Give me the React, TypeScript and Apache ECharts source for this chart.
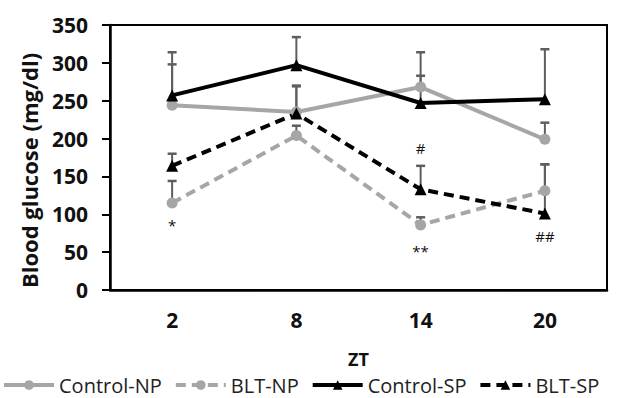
import React, { useEffect, useRef } from "react";
import * as echarts from "echarts";

const categories = ["2", "8", "14", "20"];
const controlNP = [244, 235, 268, 199];
const controlNPErr = [54, 35, 46, 22];
const bltNP = [115, 204, 86, 131];
const bltNPErr = [29, 13, 10, 35];
const controlSP = [257, 297, 247, 252];
const controlSPErr = [57, 37, 36, 66];
const bltSP = [164, 233, 133, 101];
const bltSPErr = [16, 36, 31, 65];

const annotationCats = [0, 2, 2, 3];
const annotationValues = [86, 51, 188, 71];
const annotationTexts = ["*", "**", "#", "##"];

const GRAY = "#a6a6a6";
const BLACK = "#000000";
const ERR = "#5e5e5e";
const FONT = "'Open Sans', 'DejaVu Sans', sans-serif";

export default function App() {
  const ref = useRef<HTMLDivElement>(null);
  useEffect(() => {
    if (!ref.current) return;
    const chart = echarts.init(ref.current, null, { renderer: "svg" });
    const errData: number[][] = [];
    const allVals = [controlNP, bltNP, controlSP, bltSP];
    const allErr = [controlNPErr, bltNPErr, controlSPErr, bltSPErr];
    allVals.forEach((vals, s) => {
      vals.forEach((v, i) => {
        if (allErr[s][i] > 0) errData.push([i, v, v + allErr[s][i]]);
      });
    });
    const lineSeries = (
      name: string,
      data: number[],
      color: string,
      dashed: boolean,
      symbol: string,
      size: number
    ) => ({
      name,
      type: "line",
      data,
      symbol,
      symbolSize: size,
      z: 3,
      lineStyle: { color, width: 4, type: dashed ? [10, 6] : "solid" },
      itemStyle: { color },
    });
    chart.setOption({
      animation: false,
      textStyle: { fontFamily: FONT },
      grid: {
        left: 110,
        right: 10,
        top: 25,
        bottom: 108,
        show: true,
        borderColor: "#000",
        borderWidth: 2,
      },
      xAxis: {
        type: "category",
        data: categories,
        boundaryGap: true,
        name: "ZT",
        nameLocation: "middle",
        nameGap: 60,
        nameTextStyle: { fontSize: 18, fontWeight: "bold", color: "#111", fontFamily: FONT },
        axisLine: { lineStyle: { color: "#000", width: 2.5 } },
        axisTick: { alignWithLabel: true, length: 6, lineStyle: { color: "#000", width: 2 } },
        axisLabel: { fontSize: 21, fontWeight: "bold", color: "#111", margin: 19, fontFamily: FONT },
      },
      yAxis: {
        type: "value",
        min: 0,
        max: 350,
        interval: 50,
        name: "Blood glucose (mg/dl)",
        nameLocation: "middle",
        nameGap: 70,
        nameTextStyle: {
          fontSize: 22,
          fontWeight: "bold",
          color: "#111",
          fontFamily: FONT,
          padding: [0, 26, 0, 0],
        },
        axisLine: { show: true, lineStyle: { color: "#000", width: 2.5 } },
        axisTick: { show: true, length: 8, lineStyle: { color: "#000", width: 2 } },
        axisLabel: { fontSize: 21, fontWeight: "bold", color: "#111", margin: 22, fontFamily: FONT },
        splitLine: { show: false },
      },
      legend: {
        data: ["Control-NP", "BLT-NP", "Control-SP", "BLT-SP"],
        bottom: 3,
        left: 2,
        width: 640,
        padding: 0,
        itemWidth: 50,
        itemHeight: 12,
        itemGap: 12,
        lineStyle: { width: 4 },
        textStyle: { fontSize: 20, color: "#222", fontFamily: FONT },
      },
      series: [
        {
          type: "custom",
          name: "err",
          z: 1,
          data: errData,
          renderItem: (params: any, api: any) => {
            const lo = api.coord([api.value(0), api.value(1)]);
            const hi = api.coord([api.value(0), api.value(2)]);
            return {
              type: "group",
              children: [
                {
                  type: "line",
                  shape: { x1: lo[0], y1: lo[1], x2: hi[0], y2: hi[1] },
                  style: { stroke: ERR, lineWidth: 2 },
                },
                {
                  type: "line",
                  shape: { x1: hi[0] - 4.5, y1: hi[1], x2: hi[0] + 4.5, y2: hi[1] },
                  style: { stroke: ERR, lineWidth: 2.5 },
                },
              ],
            };
          },
        },
        lineSeries("Control-NP", controlNP, GRAY, false, "circle", 11),
        lineSeries("BLT-NP", bltNP, GRAY, true, "circle", 11),
        lineSeries("Control-SP", controlSP, BLACK, false, "triangle", 12),
        lineSeries("BLT-SP", bltSP, BLACK, true, "triangle", 12),
        {
          type: "custom",
          name: "annot",
          z: 4,
          data: annotationCats.map((c, i) => [c, annotationValues[i], i]),
          renderItem: (params: any, api: any) => {
            const p = api.coord([api.value(0), api.value(1)]);
            return {
              type: "text",
              x: p[0],
              y: p[1],
              style: {
                text: annotationTexts[api.value(2)],
                fontSize: 15,
                fontFamily: FONT,
                fill: "#111",
                align: "center",
                verticalAlign: "middle",
              },
            };
          },
        },
      ],
    });
    return () => chart.dispose();
  }, []);
  return <div ref={ref} style={{ width: 617, height: 398, position: "absolute", left: 0, top: 0 }} />;
}
